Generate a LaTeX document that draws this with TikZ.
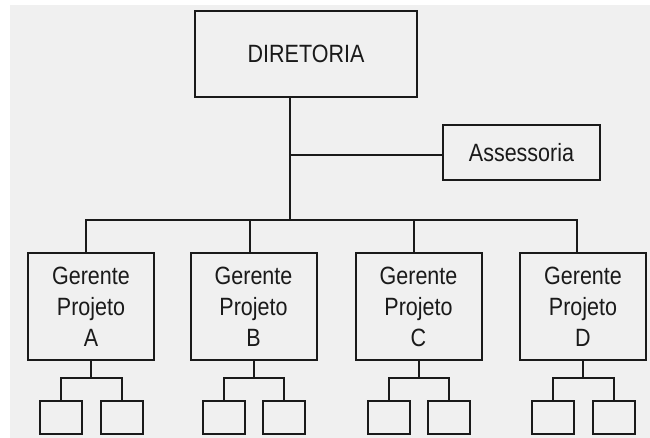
\documentclass[tikz,border=0pt]{standalone}
\usepackage{fontspec}
\setmainfont{Liberation Sans}[FakeStretch=0.86]
\usetikzlibrary{calc}
\definecolor{panel}{HTML}{F0F0F0}
\definecolor{ink}{HTML}{1A1A1A}
\begin{document}
\begin{tikzpicture}[x=1pt,y=-1pt,
  box/.style={draw=ink, line width=2pt, inner sep=0pt, align=center,
              font=\fontsize{25}{31}\selectfont, text=ink},
  manager/.style={box, minimum width=126pt, minimum height=107pt},
  leaf/.style={draw=ink, line width=2pt, inner sep=0pt,
               minimum width=42pt, minimum height=33pt},
  wire/.style={draw=ink, line width=2pt}]

% canvas and grey panel
\fill[white] (0,0) rectangle (650,438);
\fill[panel] (10,5) rectangle (650,438);
\useasboundingbox (0,0) rectangle (650,438);

% top level
\node[box, minimum width=222pt, minimum height=86pt] (dir) at (306,54) {DIRETORIA};
\node[box, minimum width=157pt, minimum height=55pt] (ass) at (521.5,152.5) {Assessoria};

% project managers
\node[manager] (gA) at (91,306.5)  {Gerente\\Projeto\\A};
\node[manager] (gB) at (253.5,306.5) {Gerente\\Projeto\\B};
\node[manager] (gC) at (418.5,306.5) {Gerente\\Projeto\\C};
\node[manager] (gD) at (583,306.5) {Gerente\\Projeto\\D};

% junction points of the main trunk and the bus
\coordinate (ja) at (290,155);
\coordinate (jb) at (290,220);
\coordinate (tA) at (86,220);
\coordinate (tB) at (250,220);
\coordinate (tC) at (414,220);
\coordinate (tD) at (577,220);

\draw[wire] (dir.south -| jb) -- (jb);
\draw[wire] (ja) -- (ja -| ass.west);
\draw[wire] (tA |- gA.north) -- (tA) -- (tD) -- (tD |- gD.north);
\draw[wire] (tB) -- (tB |- gB.north);
\draw[wire] (tC) -- (tC |- gC.north);

% two subordinate boxes under each manager
\foreach \n in {A,B,C,D}{
  \node[leaf] (l\n) at ($(g\n.south)+(-30,56)$) {};
  \node[leaf] (r\n) at ($(g\n.south)+(30.5,56)$) {};
  \draw[wire] (g\n.south) -- ++(0,17) coordinate (b\n);
  \draw[wire] (l\n.north) |- (b\n) -| (r\n.north);
}
\end{tikzpicture}
\end{document}
